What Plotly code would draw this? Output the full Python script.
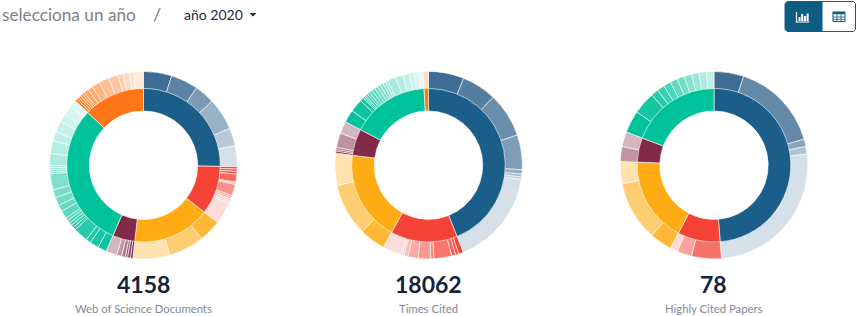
import plotly.graph_objects as go

# ---------- data ----------
titles = ["Web of Science Documents", "Times Cited", "Highly Cited Papers"]
totals = ["4158", "18062", "78"]

wos_inner = [1050, 425, 680, 195, 1270, 538]
wos_outer = [
    [202, 196, 144, 231, 127, 150],
    [17, 17, 20, 57, 8, 8, 81, 14, 12, 12, 12, 12, 155],
    [162, 254, 264],
    [17, 21, 16, 27, 35, 79],
    [64, 64, 35, 104, 21, 21, 21, 21, 21, 58, 46, 58, 58, 115, 14, 15, 15, 14, 87, 92, 64, 81, 58, 69, 54],
    [17, 17, 17, 17, 17, 35, 35, 58, 73, 69, 38, 44, 32, 69],
]

cited_inner = [7937, 2539, 3447, 1008, 2965, 166]
cited_outer = [
    [1104, 1079, 1390, 1079, 140, 90, 75, 2980],
    [151, 100, 125, 552, 100, 391, 311, 125, 75, 609],
    [813, 1631, 1003],
    [60, 50, 65, 452, 381],
    [396, 401, 125, 50, 50, 75, 75, 100, 100, 100, 100, 100, 85, 85, 261, 231, 201, 145, 166, 119],
    [166],
]

hcp_inner = [38, 7, 14, 4, 15]
hcp_outer = [
    [4, 12, 1, 1, 20],
    [4, 2, 1],
    [3, 8, 3],
    [2, 2],
    [3, 3, 1, 1, 1, 1, 1, 1, 1, 1, 1],
]

# ---------- styling ----------
W, H = 858, 316
base = [(27, 94, 137), (244, 67, 54), (255, 171, 19), (130, 42, 71), (0, 194, 154), (255, 117, 24)]
outer_base = [(28, 82, 128), (244, 67, 54), (255, 171, 19), (130, 42, 71), (0, 194, 154), (255, 117, 24)]
fade = [
    [(.85, .18), (1, .18), (.85, .35), (1, .35), (.95, .12), (1, .15)],
    [(.85, .18), (1, .18), (.85, .35), (1, .35), (1, .1), (.25, .25)],
    [(.85, .18), (.75, .2), (.85, .35), (.5, .35), (1, .25)],
]
centers = [143.5, 428.5, 714]
CY, R_OUT, R_MID_A, R_MID_B, R_IN = 165.2, 93.8, 76.8, 75.8, 54.2
LW = 0.6


def solid(c):
    return "rgb(%d,%d,%d)" % c


def tint(c, i, n, hi_lo):
    hi, lo = hi_lo
    a = hi if n == 1 else hi - (hi - lo) * i / (n - 1)
    return "rgba(%d,%d,%d,%.3f)" % (c[0], c[1], c[2], a)


def dom(cx, r):
    return dict(x=[(cx - r) / W, (cx + r) / W], y=[1 - (CY + r) / H, 1 - (CY - r) / H])


def X(v):
    return v / W


def Y(v):
    return 1 - v / H


fig = go.Figure()
charts = [(wos_inner, wos_outer), (cited_inner, cited_outer), (hcp_inner, hcp_outer)]
for k, (inner, outer) in enumerate(charts):
    cx = centers[k]
    outer_vals, outer_cols = [], []
    for g, vals in enumerate(outer):
        for i, v in enumerate(vals):
            outer_vals.append(v)
            outer_cols.append(tint(outer_base[g], i, len(vals), fade[k][g]))
    fig.add_trace(go.Pie(values=outer_vals, sort=False, direction="clockwise", rotation=0,
                         hole=R_MID_B / R_OUT, domain=dom(cx, R_OUT), textinfo="none",
                         marker=dict(colors=outer_cols, line=dict(color="white", width=LW)),
                         showlegend=False, hoverinfo="value"))
    fig.add_trace(go.Pie(values=inner, sort=False, direction="clockwise", rotation=0,
                         hole=R_IN / R_MID_A, domain=dom(cx, R_MID_A), textinfo="none",
                         marker=dict(colors=[solid(base[g]) for g in range(len(inner))],
                                     line=dict(color="white", width=LW)),
                         showlegend=False, hoverinfo="value"))


def label(x, y, text, size, color, anchor="center", family="Lato"):
    fig.add_annotation(x=X(x), y=Y(y), xref="paper", yref="paper", text=text, showarrow=False,
                       xanchor=anchor, yanchor="middle", font=dict(family=family, size=size, color=color))


for k in range(3):
    label(centers[k] - 0.5, 283.5, "<b>%s</b>" % totals[k], 23, "#14233a")
    label(centers[k] - 0.5, 308, titles[k], 11.3, "#7d8a96")

label(0, 14, "selecciona un año", 17.2, "#7b8186", "left")
label(157, 14, "/", 18, "#7b8186")
label(182, 14, "año 2020", 14, "#1c2b3a", "left")


def path(points, fill=None, line=None, lw=1, close=True):
    d = "M" + " L".join("%.5f,%.5f" % (X(a), Y(b)) for a, b in points) + (" Z" if close else "")
    fig.add_shape(type="path", path=d, xref="paper", yref="paper", layer="above",
                  fillcolor=fill if fill else "rgba(0,0,0,0)",
                  line=dict(color=line if line else "rgba(0,0,0,0)", width=lw))


BTN = "#0f5c82"
# dropdown caret
path([(249.5, 13), (256.5, 13), (253, 16.5)], fill="#1c2b3a")
# toggle button
path([(785, 3.5), (787.5, 1.5), (822, 1.5), (822, 31.5), (787.5, 31.5), (785, 29.5)], fill=BTN, line=BTN)
path([(822, 1.5), (853.5, 1.5), (855.5, 3.5), (855.5, 29.5), (853.5, 31.5), (822, 31.5)], fill="white", line=BTN)
# chart icon
path([(796.5, 12), (796.5, 22), (809.5, 22)], line="white", lw=1.2, close=False)
for a, b, top in [(798.5, 800.5, 17), (801.2, 803.2, 14), (803.9, 805.9, 16), (806.6, 808.6, 13.5)]:
    path([(a, 21), (b, 21), (b, top), (a, top)], fill="white")
# table icon
path([(833, 12), (845, 12), (845, 21.5), (833, 21.5)], fill="white", line=BTN, lw=1)
path([(833, 12), (845, 12), (845, 14.2), (833, 14.2)], fill=BTN)
for v in (837, 841):
    path([(v, 14), (v, 21.5)], line=BTN, lw=0.8, close=False)
for v in (17, 19.3):
    path([(833, v), (845, v)], line=BTN, lw=0.8, close=False)

fig.update_layout(width=W, height=H, margin=dict(l=0, r=0, t=0, b=0), autosize=False,
                  paper_bgcolor="white", plot_bgcolor="white", showlegend=False)
fig.write_html("out.html", config={"displayModeBar": False},
               post_script="document.body.style.margin='0';")
